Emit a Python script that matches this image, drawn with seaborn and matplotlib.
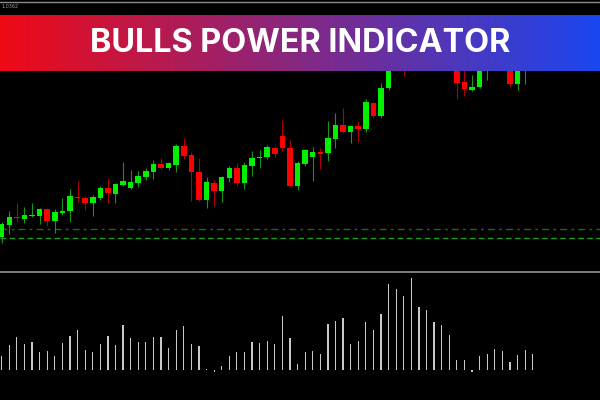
import numpy as np
import pandas as pd
import seaborn as sns
import matplotlib
matplotlib.use("Agg")
import matplotlib.pyplot as plt

# ---------------- data (price in points, bulls power in points) ----------------
opens = [13.3, 25.3, 33.3, 31, 34, 34.3, 40.7, 29, 37.3, 39.3,
         53.3, 52.3, 47.3, 52.3, 62.3, 56.3, 65.3, 61.7, 67.3, 73.3,
         78.3, 85.7, 82, 84.7, 103.7, 95, 78.3, 50.3, 66.7, 59,
         72.3, 82, 67.3, 84.3, 92, 93.3, 102, 114.3, 102, 64,
         85.7, 93, 98, 96.7, 111, 124.7, 118.3, 123.7, 121.3, 146.7,
         134.3, 162.3, 190, 205, 200, 212, 222, 210, 214, 205,
         195, 168, 160.3, 163.3, 186, 195, 200, 197, 166, 185, 192]
closes = [26, 33, 31.7, 35, 35.3, 40.7, 29, 38, 39.3, 54,
          52.3, 47.3, 53.3, 62.3, 57, 65.7, 69, 67.7, 73.7, 78.7,
          85.7, 82, 86.7, 103.7, 94, 78.3, 50.3, 67.7, 59.3, 73,
          82, 66.7, 84.7, 92, 93, 102.7, 96.3, 102, 64, 86.7,
          100.3, 98, 96, 111.7, 124.7, 118.3, 124, 121, 147.7, 134.3,
          162, 190, 205, 200, 212, 222, 210, 214, 205, 195,
          167.3, 160.7, 163.3, 186, 195, 200, 197, 166.3, 185, 192, 198]
highs = [28, 39, 47, 43.3, 47, 42, 41.7, 40.7, 52, 61.3,
         69, 54, 55, 64, 72.3, 67, 87.7, 79.7, 78.7, 82,
         90, 92.3, 87.7, 106.3, 112.3, 98.3, 92, 73.3, 70, 74,
         84, 86.7, 88, 98.7, 100.3, 105, 104, 130, 109.7, 88.7,
         101, 103.3, 102, 129, 137, 142, 124.5, 129, 150.7, 148,
         166.7, 194, 212, 209, 216, 228, 224, 220, 216, 210,
         198, 182, 175, 190, 199, 204, 206, 199, 188, 196, 201]
lows = [7.3, 15.7, 28.3, 27.3, 33, 26, 24.3, 17.3, 35.3, 28.3,
        48.3, 40, 34, 50, 47.3, 47.3, 64, 60.7, 62.7, 70,
        71.3, 80.7, 80, 78.3, 91.3, 49.3, 49, 42.3, 44, 48,
        68.3, 64, 61.3, 74.3, 82, 91, 92.7, 99.3, 62.7, 59.7,
        84, 69.3, 81.3, 89.3, 102, 117, 107.3, 108.3, 118.3, 131.7,
        132.3, 160, 186, 174, 195, 208, 204, 200, 198, 188,
        151, 154.3, 159.3, 161.7, 170, 190, 192, 163.3, 160, 166, 188]
bulls_power = [14, 25, 32.7, 25.7, 27.7, 18.3, 18.7, 14, 26.7, 34.3,
               40, 20.3, 18.3, 26.3, 34, 25, 45, 32, 27.7, 28.3,
               33.3, 33, 22.3, 40, 44, 26.3, 24, 1, -2, 4,
               14.3, 18.3, 17.7, 28, 27, 29.3, 26, 54.3, 32.3, 6,
               18, 19.3, 16.3, 45.7, 49.3, 52.3, 26.3, 28.7, 47.7, 40,
               55.7, 86, 81, 73.7, 91.7, 63, 60, 48.3, 44.7, 35.3,
               10, 9.7, -2, 14, 16.3, 21, 19.3, 8, 15, 20.3, 16]
level_upper = 20.7
level_lower = 11.7
title = "BULLS POWER INDICATOR"
price_label = "1.0362"

idx = np.arange(len(opens))
df = pd.DataFrame({"bar": idx, "open": opens, "close": closes,
                   "high": highs, "low": lows, "bulls": bulls_power})

# ---------------- figure ----------------
sns.set_theme(style="dark")
plt.rcParams["font.family"] = ["Inter", "DejaVu Sans"]
fig = plt.figure(figsize=(6, 4), dpi=100, facecolor="black")

W, H = 600.0, 400.0
x0 = -1.7 / 7.586
x1 = (600 - 1.7) / 7.586

# price panel
ax1 = fig.add_axes([0, 1 - 272 / H, 1, (272 - 1.5) / H])
ax1.set_facecolor("black")
up = df["close"] >= df["open"]
wick_cols = np.where(up, "#14961a", "#b00000")
body_cols = np.where(up, "#00f000", "#ff0000")
ax1.vlines(df["bar"], df["low"], df["high"], colors=wick_cols, lw=0.8, zorder=2)
bottoms = np.minimum(df["open"], df["close"])
heights = np.maximum(np.abs(df["close"] - df["open"]), 0.9)
ax1.bar(df["bar"], heights, bottom=bottoms, width=0.73, color=body_cols,
        linewidth=0, zorder=3)
ax1.axhline(level_upper, color="#1d6a1d", lw=1.0, ls=(0, (5, 3, 2, 3)), zorder=1)
ax1.axhline(level_lower, color="#18a018", lw=1.0, ls=(0, (4, 2.5)), zorder=1)
ax1.set_xlim(x0, x1)
ax1.set_ylim(-22, 248.5)
ax1.set_xticks([])
ax1.set_yticks([])
for s in ["left", "right", "bottom"]:
    ax1.spines[s].set_visible(False)
ax1.spines["top"].set_visible(True)
ax1.spines["top"].set_color("#8a8a8a")
ax1.spines["top"].set_linewidth(1.0)
ax1.text(0.0, 243.5, price_label, color="#9a9a9a", fontsize=3.5,
         ha="left", va="center", family="DejaVu Sans")

# bulls power panel
ax2 = fig.add_axes([0, 0, 1, 1 - 272 / H])
ax2.set_facecolor("black")
sns.barplot(data=df, x="bar", y="bulls", ax=ax2, color="#c8c8c8",
            width=0.16, errorbar=None, linewidth=0, saturation=1)
ax2.set_xlim(x0, x1)
ax2.set_ylim(-30, 98)
ax2.set_xticks([])
ax2.set_yticks([])
ax2.set_xlabel("")
ax2.set_ylabel("")
for s in ["left", "right", "bottom"]:
    ax2.spines[s].set_visible(False)
ax2.spines["top"].set_visible(True)
ax2.spines["top"].set_color("#a0a0a0")
ax2.spines["top"].set_linewidth(1.1)

# banner
axb = fig.add_axes([0, 1 - 71.3 / H, 1, (71.3 - 14.7) / H], zorder=10)
left = np.array([240, 10, 22]) / 255.0
right = np.array([26, 70, 240]) / 255.0
t = np.linspace(0, 1, 600)[None, :, None]
grad = left[None, None, :] * (1 - t) + right[None, None, :] * t
axb.imshow(grad, aspect="auto", extent=(0, 1, 0, 1))
axb.set_xlim(0, 1)
axb.set_ylim(0, 1)
axb.axis("off")
axb.text(0.5, 0.5, title, color="white", fontsize=23.3, fontweight="bold",
         ha="center", va="center")

fig.savefig("out.png", dpi=100, facecolor="black")
